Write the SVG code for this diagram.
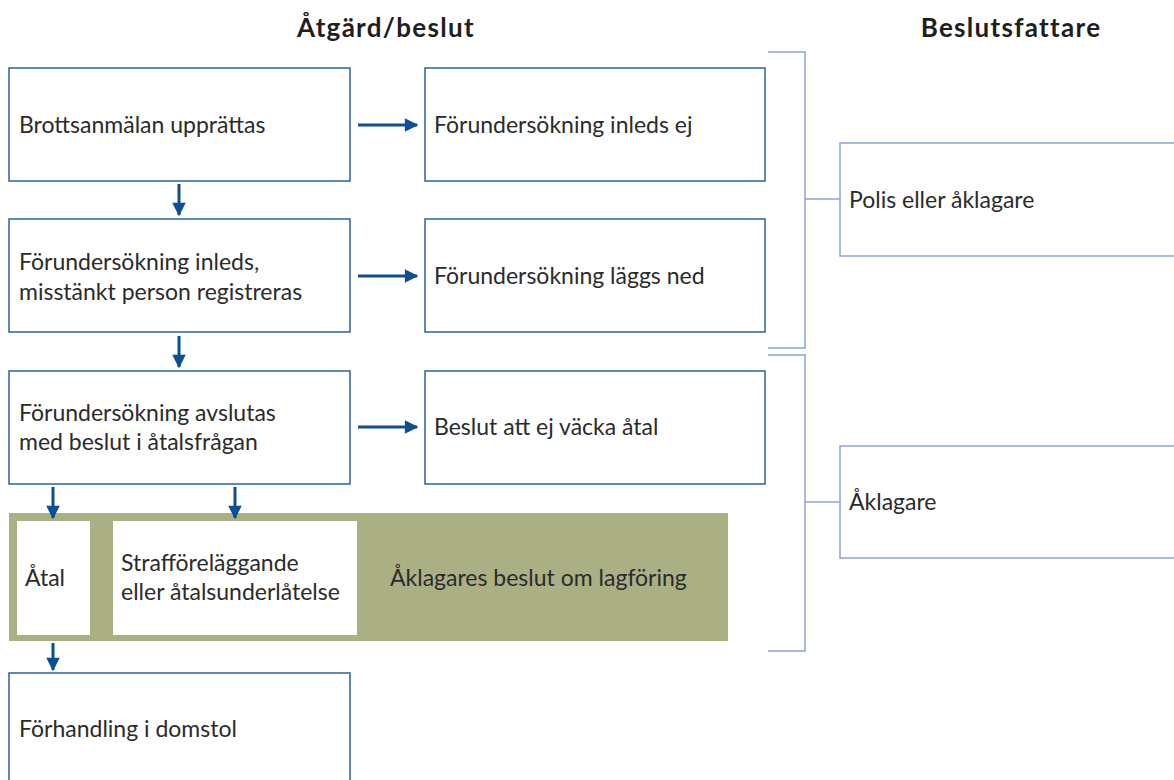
<svg xmlns="http://www.w3.org/2000/svg" width="1174" height="780" viewBox="0 0 1174 780">
<defs>
<marker id="ah" viewBox="0 0 10 10" refX="9" refY="5" markerWidth="5" markerHeight="4.5" orient="auto" markerUnits="strokeWidth">
<path d="M0,0 L10,5 L0,10 z" fill="#0b4f96"/>
</marker>
</defs>
<style>
.box{fill:#fff;stroke:#2b61a3;stroke-width:1.5}
.dbox{fill:#fff;stroke:#8ea2d2;stroke-width:1.5}
.br{fill:none;stroke:#8ea2d2;stroke-width:1.5}
.t{font-family:Lato,"Open Sans","Liberation Sans",sans-serif;font-size:23px;fill:#2b2b2b}
.h{font-family:Lato,"Liberation Sans",sans-serif;font-size:26px;font-weight:bold;fill:#1e1e1e;text-anchor:middle;letter-spacing:1.3px}
.c{stroke:#0b4f96;stroke-width:3;fill:none;marker-end:url(#ah)}
</style>
<rect width="1174" height="780" fill="#fff"/>
<text class="h" x="386" y="37">Åtgärd/beslut</text>
<text class="h" x="1011" y="37">Beslutsfattare</text>

<g id="n1"><rect class="box" x="9" y="68" width="341" height="113"/><text class="t" x="19" y="133">Brottsanmälan upprättas</text></g>
<g id="n2"><rect class="box" x="425" y="68" width="340" height="113"/><text class="t" x="434" y="133">Förundersökning inleds ej</text></g>
<g id="n3"><rect class="box" x="9" y="219" width="341" height="113"/><text class="t" x="19" y="270">Förundersökning inleds,</text><text class="t" x="19" y="300">misstänkt person registreras</text></g>
<g id="n4"><rect class="box" x="425" y="219" width="340" height="113"/><text class="t" x="434" y="284">Förundersökning läggs ned</text></g>
<g id="n5"><rect class="box" x="9" y="371" width="341" height="113"/><text class="t" x="19" y="421">Förundersökning avslutas</text><text class="t" x="19" y="450">med beslut i åtalsfrågan</text></g>
<g id="n6"><rect class="box" x="425" y="371" width="340" height="113"/><text class="t" x="434" y="435">Beslut att ej väcka åtal</text></g>
<g id="band"><rect x="9" y="513" width="719" height="128" fill="#abb084"/><text class="t" x="390" y="586">Åklagares beslut om lagföring</text></g>
<g id="n7"><rect x="17" y="521" width="73" height="114" fill="#fff"/><text class="t" x="25" y="586">Åtal</text></g>
<g id="n8"><rect x="113" y="521" width="244" height="114" fill="#fff"/><text class="t" x="121" y="571">Strafföreläggande</text><text class="t" x="121" y="600">eller åtalsunderlåtelse</text></g>
<g id="n9"><rect class="box" x="9" y="673" width="341" height="120"/><text class="t" x="19" y="737">Förhandling i domstol</text></g>
<g id="d1"><rect class="dbox" x="840" y="143" width="345" height="113"/><text class="t" x="849" y="208">Polis eller åklagare</text></g>
<g id="d2"><rect class="dbox" x="840" y="446" width="345" height="112"/><text class="t" x="849" y="510">Åklagare</text></g>

<g id="connectors">
<path class="c" d="M358,125 H417"/>
<path class="c" d="M358,276 H417"/>
<path class="c" d="M358,427 H417"/>
<path class="c" d="M179,184 V215"/>
<path class="c" d="M179,336 V367"/>
<path class="c" d="M53,487 V518"/>
<path class="c" d="M235,487 V518"/>
<path class="c" d="M53,643 V670"/>
<path class="br" d="M768,52 H805 V348 H768 M805,199 H840"/>
<path class="br" d="M768,355 H805 V651 H768 M805,502 H840"/>
</g>
</svg>
